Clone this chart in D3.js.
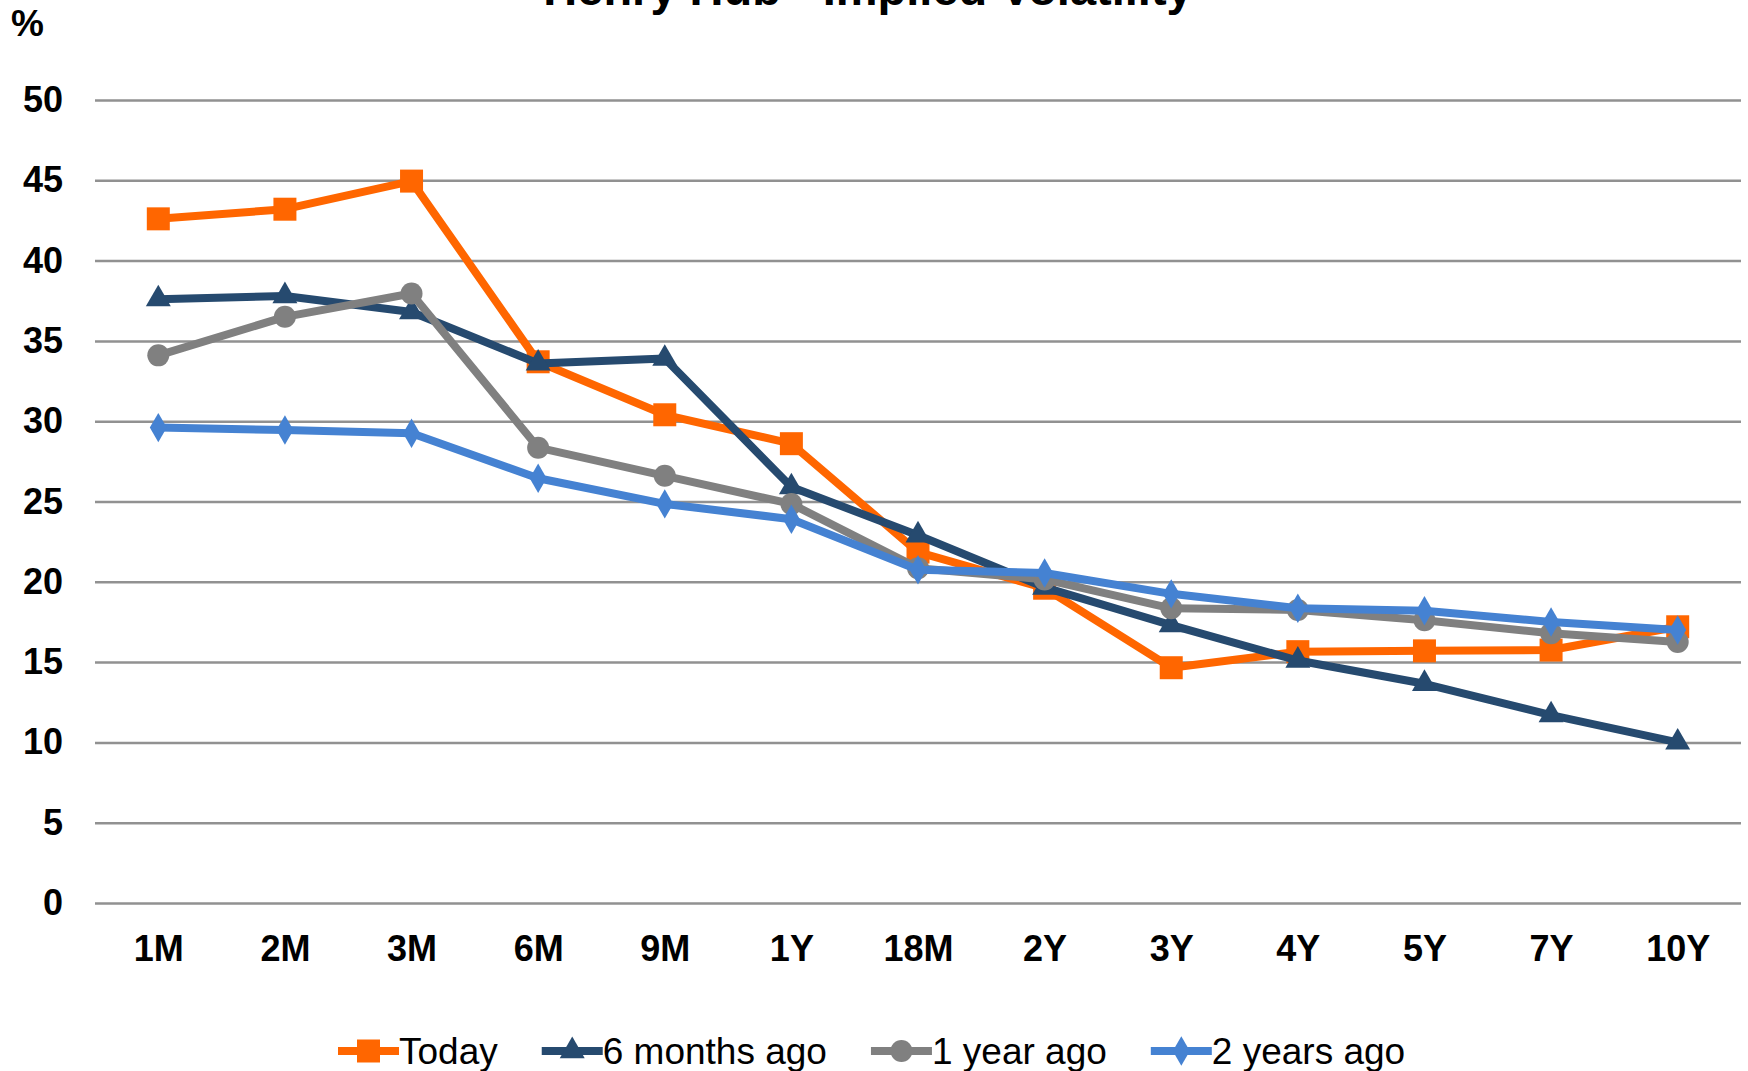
<!DOCTYPE html>
<html>
<head>
<meta charset="utf-8">
<script src="https://cdn.jsdelivr.net/npm/d3@7"></script>
<style>
  body { margin: 0; background: #fff; }
  svg { display: block; font-family: "Liberation Sans", Arial, sans-serif; }
</style>
</head>
<body>
<div class="chart"></div>
<script>
// data
const tenors = ["1M", "2M", "3M", "6M", "9M", "1Y", "18M", "2Y", "3Y", "4Y", "5Y", "7Y", "10Y"];
const today      = [42.6, 43.2, 44.95, 33.7, 30.4, 28.6, 21.85, 19.6, 14.65, 15.65, 15.7, 15.75, 17.2];
const sixMonths  = [37.6, 37.8, 36.8, 33.6, 33.9, 25.9, 22.9, 19.65, 17.3, 15.1, 13.65, 11.7, 10.0];
const oneYear    = [34.1, 36.5, 37.95, 28.35, 26.6, 24.85, 20.85, 20.15, 18.35, 18.25, 17.6, 16.8, 16.25];
const twoYears   = [29.6, 29.45, 29.25, 26.45, 24.85, 23.9, 20.75, 20.55, 19.25, 18.35, 18.2, 17.5, 17.0];
const yTicks = [0, 5, 10, 15, 20, 25, 30, 35, 40, 45, 50];

const series = [
  { name: "Today",        values: today,     color: "#FF6600", marker: "square" },
  { name: "6 months ago", values: sixMonths, color: "#264A6F", marker: "triangle" },
  { name: "1 year ago",   values: oneYear,   color: "#808080", marker: "circle" },
  { name: "2 years ago",  values: twoYears,  color: "#4582D2", marker: "diamond" }
];

const width = 1748, height = 1071;
const margin = { left: 95, right: 7, top: 100, bottom: 168 };

const svg = d3.select(".chart").append("svg")
  .attr("width", width)
  .attr("height", height)
  .attr("viewBox", [0, 0, width, height]);

const x = d3.scalePoint()
  .domain(tenors)
  .range([margin.left, width - margin.right])
  .padding(0.5);

const y = d3.scaleLinear()
  .domain([0, 50])
  .range([height - margin.bottom, margin.top]);

// title (cut off at the top, as in the picture)
svg.append("text")
  .attr("x", 868)
  .attr("y", 5)
  .attr("text-anchor", "middle")
  .style("font-size", "47px")
  .style("font-weight", "bold")
  .text("Henry Hub - Implied Volatility");

svg.append("text")
  .attr("x", 11)
  .attr("y", 36)
  .style("font-size", "37px")
  .style("font-weight", "bold")
  .text("%");

// gridlines + y labels
const yAxis = d3.axisLeft(y)
  .tickValues(yTicks)
  .tickSize(-(width - margin.left - margin.right))
  .tickPadding(32);

svg.append("g")
  .attr("transform", `translate(${margin.left},0)`)
  .call(yAxis)
  .call(g => g.select(".domain").remove())
  .call(g => g.selectAll(".tick line").attr("stroke", "#919191").attr("stroke-width", 2.5))
  .call(g => g.selectAll(".tick text")
    .attr("fill", "#000")
    .style("font-size", "36px")
    .style("font-weight", "bold"));

// x labels
const xAxis = d3.axisBottom(x).tickSize(0).tickPadding(32);
svg.append("g")
  .attr("transform", `translate(0,${y(0)})`)
  .call(xAxis)
  .call(g => g.select(".domain").remove())
  .call(g => g.selectAll(".tick text")
    .attr("fill", "#000")
    .style("font-size", "36px")
    .style("font-weight", "bold"));

const symbols = {
  square: d3.symbol().type(d3.symbolSquare).size(23 * 23),
  triangle: d3.symbol().type(d3.symbolTriangle).size(270),
  circle: d3.symbol().type(d3.symbolCircle).size(Math.PI * 11 * 11),
  diamond: d3.symbol().type(d3.symbolDiamond).size(250)
};

const line = d3.line()
  .x((d, i) => x(tenors[i]))
  .y(d => y(d));

series.forEach(s => {
  const g = svg.append("g").attr("class", "series");
  g.append("path")
    .attr("d", line(s.values))
    .attr("fill", "none")
    .attr("stroke", s.color)
    .attr("stroke-width", 8)
    .attr("stroke-linejoin", "round");
  g.selectAll("path.marker")
    .data(s.values)
    .join("path")
    .attr("class", "marker")
    .attr("d", symbols[s.marker])
    .attr("transform", (d, i) => `translate(${x(tenors[i])},${y(d)})`)
    .attr("fill", s.color);
});

// legend
const legend = svg.append("g").attr("transform", "translate(338,1051)");
let lx = 0;
series.forEach(s => {
  const item = legend.append("g").attr("transform", `translate(${lx},0)`);
  item.append("line")
    .attr("x1", 0).attr("x2", 61)
    .attr("stroke", s.color)
    .attr("stroke-width", 8);
  item.append("path")
    .attr("d", symbols[s.marker])
    .attr("transform", "translate(30.5,0)")
    .attr("fill", s.color);
  const t = item.append("text")
    .attr("x", 61)
    .attr("y", 13)
    .style("font-size", "37px")
    .text(s.name);
  lx += 61 + t.node().getComputedTextLength() + 44;
});
</script>
</body>
</html>
